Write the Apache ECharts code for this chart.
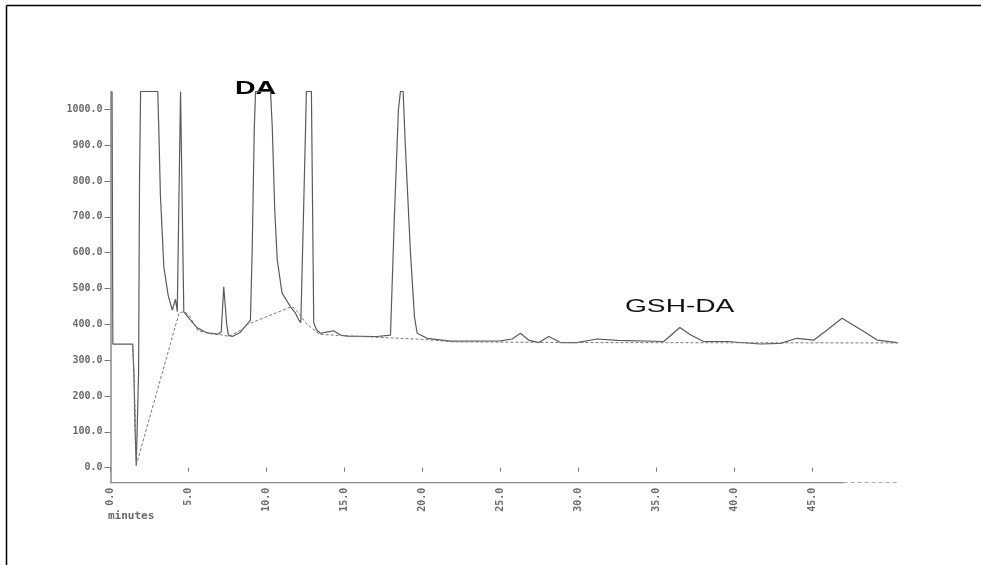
<!DOCTYPE html>
<html>
<head>
<meta charset="utf-8">
<script src="https://cdn.jsdelivr.net/npm/echarts@6/dist/echarts.min.js"></script>
<style>
  html, body { margin: 0; padding: 0; background: #fff; }
  #chart { width: 981px; height: 565px; }
</style>
</head>
<body>
<div id="chart"></div>
<script>
// 色谱图数据 (时间 min, 信号)
var traceTime = [0.1, 0.15, 1.42, 1.5, 1.58, 1.65, 1.72, 1.8, 1.86, 1.93, 3.03, 3.1, 3.2, 3.42, 3.7, 3.96, 4.17, 4.28, 4.36, 4.49, 4.58, 4.7,
    5.13, 5.56, 6.2, 6.92, 7.1, 7.26, 7.45, 7.56, 7.8, 8.0, 8.33, 8.65, 8.85, 8.97, 9.08, 9.22, 9.3, 10.26, 10.37, 10.53, 10.69, 11.0,
    11.54, 11.86, 12.07, 12.2, 12.37, 12.56, 12.88, 13.03, 13.2, 13.46, 13.85, 14.3, 14.74, 15.17, 16.88, 17.0, 17.1, 17.95, 18.2, 18.46,
    18.59, 18.76, 18.9, 19.23, 19.49, 19.66, 20.3, 21.8, 25.0, 25.75, 26.28, 26.8, 27.46, 28.1, 28.85, 29.9, 31.2, 32.5, 35.47, 36.5,
    37.2, 38.03, 39.53, 41.67, 42.95, 44.0, 45.1, 45.94, 46.9, 48.3, 49.15, 50.43];
var traceSignal = [1050, 345, 345, 265, 100, 5, 5, 265, 800, 1050, 1050, 940, 760, 560, 480, 440, 470, 435, 440, 1050, 1050, 435,
    412, 390, 376, 373, 380, 505, 400, 370, 366, 370, 378, 395, 405, 412, 600, 950, 1050, 1050, 951, 719, 580, 487,
    449, 431, 412, 405, 700, 1050, 1050, 405, 385, 375, 378, 382, 370, 367, 366, 370, 366, 370, 700, 1000,
    1050, 1050, 900, 600, 420, 375, 361, 353, 354, 359, 375, 356, 349, 366, 349, 349, 359, 355, 352, 391,
    370, 352, 352, 345, 347, 361, 356, 384, 417, 380, 356, 349];

// 基线 (虚线)
var baseTime = [1.42, 1.5, 1.6, 1.66, 4.4, 4.7, 5.0, 5.6, 6.5, 7.2, 7.6, 8.4, 8.8, 11.6, 11.8, 12.6, 13.4, 16, 20, 22, 30, 50.5];
var baseSignal = [345, 270, 120, 8, 432, 435, 428, 382, 373, 370, 366, 385, 400, 449, 445, 400, 372, 366, 358, 351, 349, 348];

// 横轴: 实线到 47 min, 其后为点线
var axisSolid = [0, 47];
var axisDotted = [47, 50.5];
var axisLevel = -42;

var yTicks = [0, 100, 200, 300, 400, 500, 600, 700, 800, 900, 1000];
var xTicks = [0, 5, 10, 15, 20, 25, 30, 35, 40, 45];

function zip(a, b) {
    var out = [];
    for (var i = 0; i < a.length; i++) out.push([a[i], b[i]]);
    return out;
}
function flat(xs, y) {
    return xs.map(function (x) { return [x, y]; });
}

var myChart = echarts.init(document.getElementById('chart'));

var labelFont = {
    color: '#6a6a6a',
    fontFamily: 'DejaVu Sans Mono',
    fontWeight: 'bold',
    fontSize: 10
};

var option = {
    backgroundColor: '#fff',
    animation: false,
    grid: { left: 110.5, right: 75, top: 91.4, bottom: 82.3, containLabel: false },
    xAxis: {
        type: 'value',
        min: 0,
        max: 51,
        axisLine: { show: false },
        axisTick: { customValues: xTicks, length: 4, lineStyle: { color: '#777' } },
        axisLabel: Object.assign({
            customValues: xTicks,
            rotate: 90,
            margin: 5,
            formatter: function (v) { return v.toFixed(1); }
        }, labelFont),
        splitLine: { show: false }
    },
    yAxis: {
        type: 'value',
        min: axisLevel,
        max: 1050,
        axisLine: { show: true, lineStyle: { color: '#8a8a8a', width: 1.5 } },
        axisTick: { show: true, customValues: yTicks, length: 6, lineStyle: { color: '#777' } },
        axisLabel: Object.assign({
            customValues: yTicks,
            margin: 8,
            formatter: function (v) { return v.toFixed(1); }
        }, labelFont),
        splitLine: { show: false }
    },
    series: [
        {
            name: 'axisSolid',
            type: 'line',
            data: flat(axisSolid, axisLevel),
            showSymbol: false,
            silent: true,
            lineStyle: { color: '#8a8a8a', width: 1.5 }
        },
        {
            name: 'axisDotted',
            type: 'line',
            data: flat(axisDotted, axisLevel),
            showSymbol: false,
            silent: true,
            lineStyle: { color: '#999', width: 1, type: [4, 3] }
        },
        {
            name: 'trace',
            type: 'line',
            data: zip(traceTime, traceSignal),
            showSymbol: false,
            lineStyle: { color: '#5a5a5a', width: 1.2 }
        },
        {
            name: 'baseline',
            type: 'line',
            data: zip(baseTime, baseSignal),
            showSymbol: false,
            lineStyle: { color: '#777', width: 1, type: [3, 2] }
        }
    ],
    graphic: [
        { type: 'line', shape: { x1: 6.5, y1: 5.5, x2: 981, y2: 5.5 }, style: { stroke: '#000', lineWidth: 1.5 } },
        { type: 'line', shape: { x1: 6.5, y1: 5.5, x2: 6.5, y2: 565 }, style: { stroke: '#000', lineWidth: 1.5 } },
        {
            type: 'text', left: 235, top: 79, scaleX: 1.5,
            style: { text: 'DA', fill: '#000', font: 'bold 19px "Liberation Sans"' }
        },
        {
            type: 'text', left: 625, top: 297, scaleX: 1.48,
            style: { text: 'GSH-DA', fill: '#111', font: '19px "Liberation Sans"' }
        },
        {
            type: 'text', left: 108, top: 511,
            style: { text: 'minutes', fill: '#6a6a6a', font: 'bold 11px "DejaVu Sans Mono"' }
        }
    ]
};

myChart.setOption(option);
</script>
</body>
</html>
